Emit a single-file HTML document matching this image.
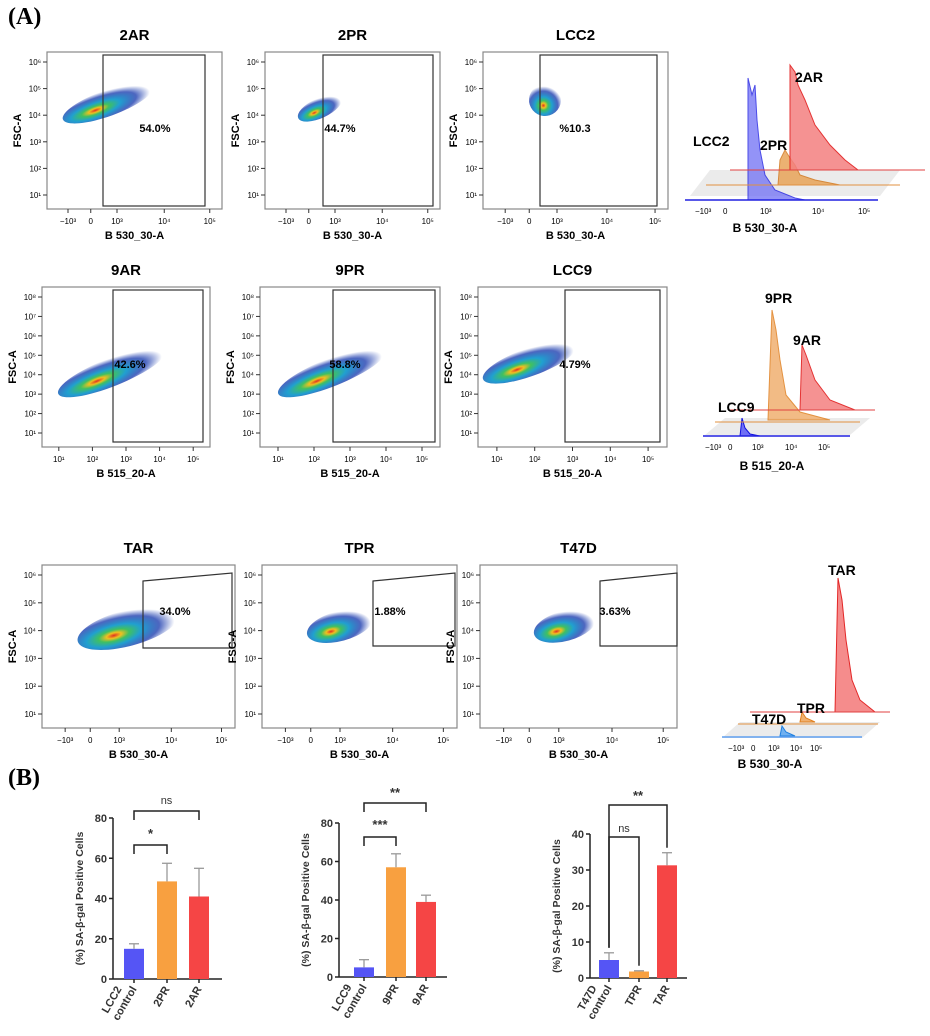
<!DOCTYPE html>
<html><head><meta charset="utf-8"><style>
body{margin:0;background:#fff;}
svg{display:block;font-family:"Liberation Sans",Arial,sans-serif;}
</style></head><body>
<svg id="fig" width="930" height="1036" viewBox="0 0 930 1036">
<defs>
<radialGradient id="cloud" cx="0.35" cy="0.6" r="0.6">
<stop offset="0" stop-color="#e03020"/><stop offset="0.12" stop-color="#f0c020"/><stop offset="0.25" stop-color="#40c060"/><stop offset="0.45" stop-color="#20a0d0"/><stop offset="0.75" stop-color="#2040b0" stop-opacity="0.8"/><stop offset="1" stop-color="#2040b0" stop-opacity="0"/>
</radialGradient>
</defs>
<text x="8" y="24" font-family="Liberation Serif,serif" font-weight="bold" font-size="24">(A)</text>
<text x="8" y="785" font-family="Liberation Serif,serif" font-weight="bold" font-size="24">(B)</text>
<g id="flows"></g>
<g id="hists">
 <g>
  <polygon points="690,196 710,170 900,170 880,196" fill="#ddd" opacity="0.6"/>
  <path d="M748,200 L748,78 L752,95 L755,85 L757,120 L760,150 L765,175 L775,190 L795,198 L805,200Z" fill="#6f6ff5" opacity="0.75" stroke="#1010e0"/>
  <path d="M778,185 L780,160 L785,150 L790,158 L795,165 L800,175 L815,180 L840,185Z" fill="#e8a050" opacity="0.8" stroke="#d07010"/>
  <path d="M790,170 L790,65 L795,72 L798,85 L805,100 L815,125 L830,145 L845,160 L858,170Z" fill="#f48080" opacity="0.85" stroke="#e01010"/>
  <line x1="730" y1="170" x2="925" y2="170" stroke="#e04040"/>
  <line x1="706" y1="185" x2="900" y2="185" stroke="#e09040"/>
  <line x1="685" y1="200" x2="878" y2="200" stroke="#2020e0" stroke-width="1.5"/>
  <text x="795" y="82" font-size="14" font-weight="bold">2AR</text>
  <text x="693" y="146" font-size="14" font-weight="bold">LCC2</text>
  <text x="760" y="150" font-size="14" font-weight="bold">2PR</text>
  <text x="695" y="214" font-size="8">−10³</text><text x="723" y="214" font-size="8">0</text><text x="760" y="214" font-size="8">10³</text><text x="812" y="214" font-size="8">10⁴</text><text x="858" y="214" font-size="8">10⁵</text>
  <text x="765" y="232" font-size="12" font-weight="bold" text-anchor="middle">B 530_30-A</text>
 </g>
 <g>
  <polygon points="705,435 725,418 870,418 850,435" fill="#ddd" opacity="0.6"/>
  <path d="M740,436 L742,418 L745,428 L750,434 L760,436Z" fill="#6f6ff5" stroke="#1010e0"/>
  <path d="M768,420 L772,310 L776,330 L780,360 L786,395 L800,412 L830,420Z" fill="#f0b070" opacity="0.85" stroke="#e08020"/>
  <path d="M800,410 L802,345 L806,355 L815,380 L830,400 L855,410Z" fill="#f48080" opacity="0.85" stroke="#e01010"/>
  <line x1="730" y1="410" x2="875" y2="410" stroke="#e04040"/>
  <line x1="715" y1="422" x2="860" y2="422" stroke="#e09040"/>
  <line x1="703" y1="436" x2="850" y2="436" stroke="#2020e0" stroke-width="1.5"/>
  <text x="765" y="303" font-size="14" font-weight="bold">9PR</text>
  <text x="793" y="345" font-size="14" font-weight="bold">9AR</text>
  <text x="718" y="412" font-size="14" font-weight="bold">LCC9</text>
  <text x="705" y="450" font-size="8">−10³</text><text x="728" y="450" font-size="8">0</text><text x="752" y="450" font-size="8">10³</text><text x="785" y="450" font-size="8">10⁴</text><text x="818" y="450" font-size="8">10⁵</text>
  <text x="772" y="470" font-size="12" font-weight="bold" text-anchor="middle">B 515_20-A</text>
 </g>
 <g>
  <polygon points="722,738 740,722 880,722 862,738" fill="#ddd" opacity="0.6"/>
  <path d="M835,712 L838,578 L842,600 L846,640 L852,680 L860,700 L875,712Z" fill="#f48080" opacity="0.9" stroke="#e01010"/>
  <path d="M800,722 L802,712 L806,718 L815,722Z" fill="#f0b070" stroke="#e08020"/>
  <path d="M780,736 L782,726 L786,732 L795,736Z" fill="#70b0f0" stroke="#2080e0"/>
  <line x1="750" y1="712" x2="890" y2="712" stroke="#e04040"/>
  <line x1="738" y1="724" x2="878" y2="724" stroke="#e09040"/>
  <line x1="722" y1="737" x2="862" y2="737" stroke="#60a0f0" stroke-width="1.5"/>
  <text x="828" y="575" font-size="14" font-weight="bold">TAR</text>
  <text x="797" y="713" font-size="14" font-weight="bold">TPR</text>
  <text x="752" y="724" font-size="14" font-weight="bold">T47D</text>
  <text x="728" y="751" font-size="8">−10³</text><text x="751" y="751" font-size="8">0</text><text x="768" y="751" font-size="8">10³</text><text x="790" y="751" font-size="8">10⁴</text><text x="810" y="751" font-size="8">10⁵</text>
  <text x="770" y="768" font-size="12" font-weight="bold" text-anchor="middle">B 530_30-A</text>
 </g>
</g>
<g id="bars"></g>
</svg>
<script>
var NS="http://www.w3.org/2000/svg";
function mk(p,tag,at,txt){var e=document.createElementNS(NS,tag);for(var k in at)e.setAttribute(k,at[k]);if(txt!=null)e.textContent=txt;p.appendChild(e);return e;}

// ---- flow cytometry panels ----
var flowTitles=["2AR","2PR","LCC2","9AR","9PR","LCC9","TAR","TPR","T47D"];
var flowPercents=["54.0%","44.7%","%10.3","42.6%","58.8%","4.79%","34.0%","1.88%","3.63%"];
var flowFrames=[[47,52,222,209],[265,52,440,209],[483,52,668,209],[42,287,210,447],[260,287,440,447],[478,287,667,447],[42,565,235,728],[262,565,457,728],[480,565,677,728]];
var flowGates=[[103,55,205,206],[323,55,433,206],[540,55,657,206],[113,290,203,442],[333,290,435,442],[565,290,660,442],[143,573,232,648],[373,573,455,646],[600,573,677,646]];
var flowPctPos=[[155,132],[340,132],[575,132],[130,368],[345,368],[575,368],[175,615],[390,615],[615,615]];
var clouds=[[108,103,48,13,-20],[320,108,24,10,-25],[545,100,16,16,-40],[112,372,58,14,-22],[332,372,58,14,-22],[530,362,50,14,-20],[128,628,52,18,-15],[340,626,34,15,-15],[565,626,32,15,-15]];
var g=document.getElementById('flows');
for(var i=0;i<9;i++){
  var f=flowFrames[i],gt=flowGates[i],row=Math.floor(i/3);
  var grp=mk(g,'g',{});
  
  
  var cx=(f[0]+f[2])/2;
  var t=mk(grp,'text',{x:cx,y:f[1]-12,'font-size':15,'font-weight':'bold','text-anchor':'middle'},flowTitles[i]);
  
  
  mk(grp,'rect',{x:f[0],y:f[1],width:f[2]-f[0],height:f[3]-f[1],fill:'none',stroke:'#888','stroke-width':1.2});
  var c=clouds[i];
  mk(grp,'ellipse',{cx:c[0],cy:c[1],rx:c[2],ry:c[3],fill:'url(#cloud)',transform:'rotate('+c[4]+' '+c[0]+' '+c[1]+')'});
  if(row<2) mk(grp,'rect',{x:gt[0],y:gt[1],width:gt[2]-gt[0],height:gt[3]-gt[1],fill:'none',stroke:'#333','stroke-width':1.2});
  else mk(grp,'polygon',{points:gt[0]+','+(gt[1]+8)+' '+gt[2]+','+gt[1]+' '+gt[2]+','+gt[3]+' '+gt[0]+','+gt[3],fill:'none',stroke:'#333','stroke-width':1.2});
  var pt=mk(grp,'text',{x:flowPctPos[i][0],y:flowPctPos[i][1],'font-size':11,'font-weight':'bold','text-anchor':'middle'},flowPercents[i]);
  
  
  var ylab=row==1?['10⁸','10⁷','10⁶','10⁵','10⁴','10³','10²','10¹']:['10⁶','10⁵','10⁴','10³','10²','10¹'];
  var y0=f[1]+10,y1=f[3]-14;
  for(var k=0;k<ylab.length;k++){var yy=y0+(y1-y0)*k/(ylab.length-1);
    mk(grp,'line',{x1:f[0]-4,y1:yy,x2:f[0],y2:yy,stroke:'#333'});
    mk(grp,'text',{x:f[0]-6,y:yy+3,'font-size':8,'text-anchor':'end'},ylab[k]);}
  var ya=mk(grp,'text',{x:f[0]-26,y:(f[1]+f[3])/2,'font-size':11,'font-weight':'bold','text-anchor':'middle',transform:'rotate(-90 '+(f[0]-26)+' '+(f[1]+f[3])/2+')'},'FSC-A');
  
  
  var xlab=row==1?['10¹','10²','10³','10⁴','10⁵']:['−10³','0','10³','10⁴','10⁵'];
  var w=f[2]-f[0];
  var xf=row==1?[0.1,0.3,0.5,0.7,0.9]:[0.12,0.25,0.4,0.67,0.93];
  for(var k=0;k<xlab.length;k++){var xx=f[0]+w*xf[k];
    mk(grp,'line',{x1:xx,y1:f[3],x2:xx,y2:f[3]+4,stroke:'#333'});
    mk(grp,'text',{x:xx,y:f[3]+15,'font-size':8,'text-anchor':'middle'},xlab[k]);}
  var xa=mk(grp,'text',{x:cx,y:f[3]+30,'font-size':11,'font-weight':'bold','text-anchor':'middle'},row==1?'B 515_20-A':'B 530_30-A');
  
  
}

// ---- bar charts ----
var cats1=["LCC2\ncontrol","2PR","2AR"], vals1=[15,48.5,41], errs1=[2.5,9,14];
var cats2=["LCC9\ncontrol","9PR","9AR"], vals2=[5,57,39], errs2=[4,7,3.5];
var cats3=["T47D\ncontrol","TPR","TAR"], vals3=[5,1.8,31.3], errs3=[2,0.2,3.5];
var ticks1=[0,20,40,60,80], ticks2=[0,20,40,60,80], ticks3=[0,10,20,30,40];
var colors=["#5555f5","#f8a040","#f54545"];
var charts=[
 {cats:cats1,vals:vals1,errs:errs1,ticks:ticks1,ax:113,top:818,bot:979,xs:[134,167,199],end:222,
  brackets:[[0,1,"*",845,833,false],[0,2,"ns",811,799,false]]},
 {cats:cats2,vals:vals2,errs:errs2,ticks:ticks2,ax:339,top:823,bot:977,xs:[364,396,426],end:447,
  brackets:[[0,1,"***",837,824,false],[0,2,"**",803,792,false]]},
 {cats:cats3,vals:vals3,errs:errs3,ticks:ticks3,ax:590,top:834,bot:978,xs:[609,639,667],end:687,
  brackets:[[0,1,"ns",837,827,true],[0,2,"**",805,795,true]]}
];
var bg=document.getElementById('bars');
charts.forEach(function(c,ci){
  var grp=mk(bg,'g',{});
  
  
  var mx=c.ticks[c.ticks.length-1];
  function Y(v){return c.bot-(c.bot-c.top)*v/mx;}
  mk(grp,'line',{x1:c.ax,y1:c.top,x2:c.ax,y2:c.bot,stroke:'#222','stroke-width':1.5});
  mk(grp,'line',{x1:c.ax,y1:c.bot,x2:c.end,y2:c.bot,stroke:'#222','stroke-width':1.5});
  c.ticks.forEach(function(t){
    mk(grp,'line',{x1:c.ax-4,y1:Y(t),x2:c.ax,y2:Y(t),stroke:'#222','stroke-width':1.5});
    var tl=mk(grp,'text',{x:c.ax-6,y:Y(t)+4,'font-size':11,'font-weight':'bold','text-anchor':'end',fill:'#333'},t);
    
    
  });
  var lx=c.ax-30,ly=(c.top+c.bot)/2;
  var yt=mk(grp,'text',{x:lx,y:ly,'font-size':10.5,'font-weight':'bold','text-anchor':'middle',fill:'#333',transform:'rotate(-90 '+lx+' '+ly+')'},'(%) SA-β-gal Positive Cells');
  
  
  for(var i=0;i<3;i++){
    var x=c.xs[i],bw=20;
    var b=mk(grp,'rect',{x:x-bw/2,y:Y(c.vals[i]),width:bw,height:c.bot-Y(c.vals[i]),fill:colors[i]});
    
    
    var eT=Y(c.vals[i]+c.errs[i]);
    mk(grp,'line',{x1:x,y1:Y(c.vals[i]),x2:x,y2:eT,stroke:'#999','stroke-width':1.3});
    mk(grp,'line',{x1:x-5,y1:eT,x2:x+5,y2:eT,stroke:'#999','stroke-width':1.3});
    mk(grp,'line',{x1:x,y1:c.bot,x2:x,y2:c.bot+4,stroke:'#222','stroke-width':1.5});
    var parts=c.cats[i].split('\n');
    parts.forEach(function(p,pi){
      var tx=x+3-(parts.length-1-pi)*12+(pi<parts.length-1?-3:0);
      var cl=mk(grp,'text',{x:tx,y:c.bot+10,'font-size':11,'font-weight':'bold','text-anchor':'end',fill:'#333',transform:'rotate(-60 '+tx+' '+(c.bot+10)+')'},p);
      
      
    });
  }
  c.brackets.forEach(function(br){
    var x1=c.xs[br[0]],x2=c.xs[br[1]],yb=br[3];
    var l1=br[5]?Y(c.vals[br[0]]+c.errs[br[0]])-5:yb+9;
    var l2=br[5]?Y(c.vals[br[1]]+c.errs[br[1]])-5:yb+9;
    var pl=mk(grp,'polyline',{points:x1+','+l1+' '+x1+','+yb+' '+x2+','+yb+' '+x2+','+l2,fill:'none',stroke:'#222','stroke-width':1.5});
    
    
    var st=mk(grp,'text',{x:(x1+x2)/2,y:br[4]+5,'font-size':br[2]=='ns'?11:13,'font-weight':br[2]=='ns'?'normal':'bold','text-anchor':'middle',fill:'#333'},br[2]);
    
    
  });
});
</script>
</body></html>
